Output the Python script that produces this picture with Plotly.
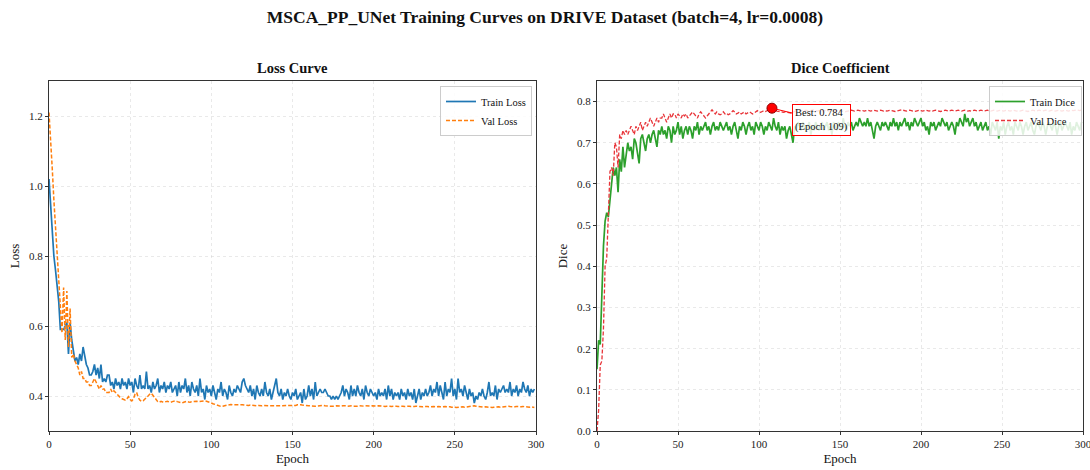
import plotly.graph_objects as go

# ---------------- data ----------------
train_loss = [
    1.02, 0.94, 0.87, 0.80, 0.76, 0.71, 0.67, 0.59, 0.59, 0.59, 0.60, 0.61, 0.52, 0.61, 0.56, 0.53, 0.50, 0.51, 0.49, 0.52,
    0.50, 0.54, 0.51, 0.49, 0.48, 0.46, 0.46, 0.47, 0.49, 0.46, 0.48, 0.45, 0.49, 0.44, 0.45, 0.44, 0.46, 0.46, 0.43, 0.44,
    0.42, 0.45, 0.43, 0.44, 0.42, 0.45, 0.43, 0.44, 0.42, 0.45, 0.43, 0.44, 0.41, 0.45, 0.43, 0.42, 0.46, 0.42, 0.43, 0.42,
    0.47, 0.42, 0.43, 0.41, 0.44, 0.42, 0.43, 0.45, 0.41, 0.43, 0.42, 0.44, 0.41, 0.43, 0.42, 0.44, 0.41, 0.42, 0.43, 0.40,
    0.44, 0.41, 0.43, 0.42, 0.45, 0.41, 0.43, 0.40, 0.44, 0.42, 0.41, 0.43, 0.40, 0.45, 0.41, 0.42, 0.39, 0.43, 0.41, 0.42,
    0.40, 0.43, 0.41, 0.39, 0.42, 0.41, 0.44, 0.40, 0.42, 0.41, 0.39, 0.43, 0.41, 0.40, 0.42, 0.41, 0.43, 0.42, 0.41, 0.44,
    0.45, 0.43, 0.42, 0.41, 0.43, 0.40, 0.42, 0.39, 0.43, 0.41, 0.40, 0.42, 0.40, 0.44, 0.41, 0.40, 0.42, 0.39, 0.41, 0.43,
    0.45, 0.41, 0.40, 0.42, 0.39, 0.41, 0.40, 0.42, 0.40, 0.39, 0.41, 0.40, 0.42, 0.39, 0.40, 0.41, 0.38, 0.42, 0.39, 0.40,
    0.43, 0.40, 0.42, 0.39, 0.44, 0.40, 0.41, 0.42, 0.41, 0.41, 0.42, 0.41, 0.40, 0.40, 0.39, 0.40, 0.39, 0.40, 0.39, 0.40,
    0.41, 0.43, 0.40, 0.42, 0.41, 0.39, 0.43, 0.40, 0.42, 0.40, 0.43, 0.41, 0.40, 0.42, 0.39, 0.43, 0.41, 0.40, 0.42, 0.41,
    0.40, 0.41, 0.39, 0.42, 0.40, 0.41, 0.40, 0.42, 0.39, 0.43, 0.40, 0.42, 0.39, 0.41, 0.40, 0.41, 0.39, 0.42, 0.40, 0.41,
    0.39, 0.42, 0.40, 0.41, 0.39, 0.42, 0.38, 0.40, 0.42, 0.39, 0.41, 0.40, 0.42, 0.40, 0.41, 0.43, 0.40, 0.42, 0.41, 0.44,
    0.40, 0.43, 0.41, 0.39, 0.44, 0.40, 0.42, 0.41, 0.45, 0.40, 0.42, 0.39, 0.45, 0.41, 0.42, 0.40, 0.43, 0.41, 0.39, 0.42,
    0.40, 0.41, 0.38, 0.40, 0.39, 0.41, 0.40, 0.42, 0.40, 0.39, 0.41, 0.44, 0.40, 0.41, 0.40, 0.43, 0.39, 0.42, 0.41, 0.42,
    0.43, 0.41, 0.42, 0.41, 0.44, 0.40, 0.42, 0.41, 0.43, 0.40, 0.42, 0.41, 0.44, 0.42, 0.41, 0.43, 0.40, 0.42, 0.41, 0.42,
]

val_loss = [
    1.21, 1.14, 1.05, 0.96, 0.88, 0.80, 0.74, 0.66, 0.58, 0.71, 0.56, 0.70, 0.54, 0.65, 0.51, 0.52, 0.50, 0.49, 0.48, 0.46,
    0.47, 0.45, 0.45, 0.44, 0.44, 0.43, 0.43, 0.44, 0.45, 0.44, 0.43, 0.42, 0.43, 0.42, 0.42, 0.41, 0.41, 0.41, 0.42, 0.41,
    0.415, 0.410, 0.402, 0.398, 0.395, 0.392, 0.390, 0.388, 0.392, 0.398, 0.390, 0.386, 0.392, 0.405, 0.410, 0.395, 0.388, 0.385, 0.386, 0.390,
    0.395, 0.400, 0.405, 0.408, 0.402, 0.395, 0.388, 0.384, 0.382, 0.385, 0.383, 0.382, 0.384, 0.385, 0.383, 0.382, 0.384, 0.385, 0.386, 0.384,
    0.383, 0.382, 0.380, 0.382, 0.384, 0.385, 0.383, 0.382, 0.384, 0.385, 0.386, 0.385, 0.384, 0.385, 0.386, 0.387, 0.386, 0.385, 0.384, 0.382,
    0.380, 0.378, 0.376, 0.374, 0.372, 0.371, 0.370, 0.371, 0.372, 0.373, 0.375, 0.376, 0.376, 0.375, 0.376, 0.375, 0.375, 0.374, 0.375, 0.375,
    0.374, 0.374, 0.373, 0.373, 0.374, 0.373, 0.372, 0.373, 0.372, 0.373, 0.372, 0.372, 0.373, 0.372, 0.373, 0.372, 0.372, 0.371, 0.372, 0.372,
    0.372, 0.371, 0.372, 0.371, 0.372, 0.371, 0.372, 0.371, 0.372, 0.371, 0.372, 0.372, 0.373, 0.375, 0.376, 0.375, 0.374, 0.373, 0.372, 0.372,
    0.372, 0.372, 0.371, 0.372, 0.371, 0.371, 0.372, 0.371, 0.372, 0.373, 0.372, 0.371, 0.372, 0.371, 0.371, 0.370, 0.371, 0.372, 0.371, 0.372,
    0.371, 0.372, 0.373, 0.372, 0.371, 0.372, 0.371, 0.372, 0.371, 0.370, 0.371, 0.372, 0.371, 0.372, 0.371, 0.372, 0.371, 0.370, 0.371, 0.372,
    0.371, 0.370, 0.371, 0.372, 0.371, 0.370, 0.371, 0.370, 0.371, 0.372, 0.371, 0.370, 0.371, 0.370, 0.371, 0.370, 0.371, 0.370, 0.371, 0.370,
    0.371, 0.370, 0.371, 0.370, 0.369, 0.370, 0.371, 0.370, 0.371, 0.370, 0.369, 0.370, 0.371, 0.370, 0.369, 0.370, 0.371, 0.370, 0.369, 0.370,
    0.370, 0.369, 0.370, 0.369, 0.370, 0.369, 0.370, 0.369, 0.368, 0.369, 0.368, 0.367, 0.368, 0.369, 0.370, 0.369, 0.368, 0.369, 0.370, 0.371,
    0.370, 0.371, 0.372, 0.371, 0.370, 0.369, 0.370, 0.369, 0.368, 0.369, 0.368, 0.367, 0.368, 0.367, 0.368, 0.369, 0.368, 0.369, 0.368, 0.369,
    0.370, 0.369, 0.370, 0.371, 0.370, 0.369, 0.368, 0.369, 0.370, 0.369, 0.368, 0.369, 0.370, 0.369, 0.368, 0.367, 0.368, 0.369, 0.368, 0.367,
]

train_dice = [
    0.15, 0.22, 0.21, 0.33, 0.45, 0.51, 0.53, 0.52, 0.56, 0.60, 0.64, 0.62, 0.64, 0.58, 0.66, 0.63, 0.69, 0.64, 0.67, 0.70,
    0.68, 0.69, 0.66, 0.71, 0.70, 0.67, 0.65, 0.71, 0.72, 0.70, 0.68, 0.71, 0.72, 0.70, 0.72, 0.73, 0.71, 0.69, 0.73, 0.72,
    0.74, 0.72, 0.73, 0.71, 0.74, 0.73, 0.70, 0.74, 0.72, 0.73, 0.75, 0.72, 0.74, 0.71, 0.73, 0.74, 0.72, 0.74, 0.73, 0.71,
    0.74, 0.73, 0.75, 0.72, 0.74, 0.73, 0.74, 0.75, 0.73, 0.74, 0.72, 0.74, 0.75, 0.73, 0.74, 0.73, 0.75, 0.74, 0.73, 0.74,
    0.75, 0.73, 0.74, 0.72, 0.74, 0.75, 0.73, 0.71, 0.74, 0.73, 0.75, 0.74, 0.72, 0.74, 0.75, 0.73, 0.74, 0.72, 0.75, 0.74,
    0.73, 0.75, 0.74, 0.72, 0.74, 0.73, 0.75, 0.74, 0.73, 0.76, 0.74, 0.73, 0.75, 0.72, 0.74, 0.73, 0.74, 0.71, 0.73, 0.74,
    0.72, 0.70, 0.74, 0.73, 0.75, 0.74, 0.73, 0.75, 0.74, 0.73, 0.74, 0.75, 0.72, 0.74, 0.73, 0.75, 0.74, 0.73, 0.74, 0.75,
    0.73, 0.74, 0.75, 0.73, 0.74, 0.72, 0.75, 0.74, 0.73, 0.75, 0.74, 0.73, 0.76, 0.74, 0.73, 0.75, 0.74, 0.75, 0.73, 0.74,
    0.75, 0.74, 0.76, 0.75, 0.74, 0.75, 0.74, 0.76, 0.74, 0.75, 0.73, 0.71, 0.74, 0.75, 0.74, 0.73, 0.75, 0.74, 0.75, 0.74,
    0.73, 0.75, 0.74, 0.76, 0.74, 0.75, 0.73, 0.75, 0.74, 0.75, 0.76, 0.74, 0.75, 0.73, 0.75, 0.74, 0.76, 0.75, 0.74, 0.75,
    0.76, 0.74, 0.75, 0.73, 0.74, 0.72, 0.75, 0.74, 0.75, 0.73, 0.74, 0.75, 0.74, 0.76, 0.75, 0.74, 0.75, 0.73, 0.74, 0.75,
    0.74, 0.72, 0.75, 0.74, 0.76, 0.75, 0.74, 0.77, 0.75, 0.76, 0.74, 0.75, 0.76, 0.74, 0.75, 0.73, 0.74, 0.75, 0.73, 0.74,
    0.75, 0.73, 0.74, 0.72, 0.75, 0.74, 0.73, 0.75, 0.71, 0.74, 0.73, 0.75, 0.72, 0.74, 0.75, 0.73, 0.74, 0.72, 0.75, 0.74,
    0.73, 0.75, 0.74, 0.72, 0.74, 0.75, 0.73, 0.74, 0.75, 0.73, 0.72, 0.74, 0.75, 0.74, 0.73, 0.75, 0.74, 0.72, 0.74, 0.75,
    0.74, 0.73, 0.75, 0.74, 0.72, 0.74, 0.75, 0.73, 0.74, 0.75, 0.74, 0.73, 0.75, 0.72, 0.74, 0.73, 0.75, 0.74, 0.73, 0.75,
]

val_dice = [
    0.00, 0.05, 0.16, 0.17, 0.25, 0.40, 0.42, 0.55, 0.63, 0.64, 0.62, 0.70, 0.69, 0.64, 0.72, 0.71, 0.73, 0.72, 0.73, 0.72,
    0.73, 0.74, 0.73, 0.72, 0.74, 0.73, 0.74, 0.75, 0.73, 0.74, 0.75, 0.74, 0.75, 0.76, 0.75, 0.74, 0.75, 0.76, 0.75, 0.76,
    0.76, 0.77, 0.76, 0.75, 0.76, 0.77, 0.76, 0.77, 0.77, 0.76, 0.77, 0.765, 0.76, 0.77, 0.765, 0.77, 0.76, 0.765, 0.77, 0.775,
    0.77, 0.765, 0.76, 0.77, 0.775, 0.77, 0.765, 0.76, 0.765, 0.77, 0.775, 0.78, 0.775, 0.77, 0.775, 0.77, 0.768, 0.77, 0.775, 0.77,
    0.772, 0.768, 0.77, 0.775, 0.778, 0.775, 0.77, 0.772, 0.775, 0.77, 0.772, 0.775, 0.77, 0.772, 0.775, 0.773, 0.77, 0.772, 0.775, 0.778,
    0.775, 0.774, 0.776, 0.778, 0.776, 0.778, 0.780, 0.781, 0.784, 0.782, 0.779, 0.777, 0.776, 0.776, 0.775, 0.774, 0.775, 0.774, 0.773, 0.773,
    0.772, 0.774, 0.776, 0.778, 0.780, 0.779, 0.778, 0.779, 0.778, 0.779, 0.778, 0.779, 0.778, 0.780, 0.779, 0.778, 0.777, 0.778, 0.779, 0.778,
    0.778, 0.779, 0.778, 0.777, 0.778, 0.779, 0.778, 0.777, 0.778, 0.779, 0.778, 0.777, 0.776, 0.775, 0.776, 0.777, 0.778, 0.779, 0.778, 0.777,
    0.778, 0.779, 0.778, 0.777, 0.778, 0.777, 0.778, 0.779, 0.778, 0.777, 0.778, 0.779, 0.778, 0.777, 0.778, 0.779, 0.778, 0.777, 0.778, 0.777,
    0.778, 0.779, 0.778, 0.777, 0.776, 0.777, 0.778, 0.779, 0.780, 0.779, 0.778, 0.777, 0.778, 0.779, 0.778, 0.777, 0.776, 0.777, 0.778, 0.779,
    0.778, 0.777, 0.778, 0.779, 0.778, 0.777, 0.778, 0.777, 0.778, 0.779, 0.778, 0.777, 0.776, 0.777, 0.778, 0.779, 0.778, 0.777, 0.778, 0.779,
    0.778, 0.777, 0.778, 0.779, 0.778, 0.777, 0.778, 0.779, 0.778, 0.777, 0.778, 0.777, 0.778, 0.779, 0.778, 0.777, 0.778, 0.779, 0.778, 0.777,
    0.778, 0.779, 0.778, 0.777, 0.778, 0.779, 0.778, 0.777, 0.778, 0.779, 0.778, 0.777, 0.778, 0.779, 0.778, 0.777, 0.778, 0.779, 0.778, 0.777,
    0.778, 0.777, 0.778, 0.779, 0.778, 0.777, 0.776, 0.777, 0.778, 0.779, 0.778, 0.777, 0.778, 0.779, 0.778, 0.777, 0.778, 0.779, 0.778, 0.777,
    0.778, 0.779, 0.778, 0.777, 0.778, 0.779, 0.778, 0.777, 0.778, 0.779, 0.778, 0.777, 0.778, 0.779, 0.778, 0.779, 0.780, 0.779, 0.778, 0.779,
]

title_text = "MSCA_PP_UNet Training Curves on DRIVE Dataset (batch=4, lr=0.0008)"
x_ticks = [0, 50, 100, 150, 200, 250, 300]
loss_ticks = [0.4, 0.6, 0.8, 1.0, 1.2]
dice_ticks = [0.0, 0.1, 0.2, 0.3, 0.4, 0.5, 0.6, 0.7, 0.8]

# ---------------- figure ----------------
FONT = "Liberation Serif, Times New Roman, serif"
W, H = 1090, 470

def ep(series):
    return list(range(len(series)))

best_idx = max(range(len(val_dice)), key=lambda i: val_dice[i])
best_val = val_dice[best_idx]

fig = go.Figure()
fig.add_trace(go.Scatter(x=ep(train_loss), y=train_loss, mode="lines", name="Train Loss",
                         line=dict(color="#1f77b4", width=1.7), xaxis="x", yaxis="y", legend="legend"))
fig.add_trace(go.Scatter(x=ep(val_loss), y=val_loss, mode="lines", name="Val Loss",
                         line=dict(color="#ff7f0e", width=1.5, dash="4px,2px"), xaxis="x", yaxis="y", legend="legend"))
fig.add_trace(go.Scatter(x=ep(train_dice), y=train_dice, mode="lines", name="Train Dice",
                         line=dict(color="#2ca02c", width=1.7), xaxis="x2", yaxis="y2", legend="legend2"))
fig.add_trace(go.Scatter(x=ep(val_dice), y=val_dice, mode="lines", name="Val Dice",
                         line=dict(color="#e8353a", width=1.3, dash="4px,2px"), xaxis="x2", yaxis="y2", legend="legend2"))
fig.add_trace(go.Scatter(x=[best_idx], y=[best_val], mode="markers", showlegend=False,
                         marker=dict(color="red", size=10, line=dict(color="#8b0000", width=1)),
                         xaxis="x2", yaxis="y2"))

x1d = [49 / W, 536 / W]
x2d = [597 / W, 1083 / W]
yd = [1 - 431 / H, 1 - 81 / H]

axis_common = dict(
    showline=True, linecolor="#333333", linewidth=1, mirror=True, automargin=False,
    ticks="outside", ticklen=3, tickcolor="#333333", ticklabeloverflow="allow",
    showgrid=True, gridcolor="rgba(200,200,200,0.4)", griddash="dot", gridwidth=1,
    zeroline=False, tickfont=dict(family=FONT, size=11, color="#222222"),
)

fig.update_layout(
    width=W, height=H,
    paper_bgcolor="white", plot_bgcolor="white",
    margin=dict(l=0, r=0, t=0, b=0),
    font=dict(family=FONT, color="#111111"),
    title=dict(text=f"<b>{title_text}</b>", x=0.5, xanchor="center", y=1 - 17 / H, yanchor="middle",
               font=dict(family=FONT, size=17.5, color="#111111")),
    xaxis=dict(domain=x1d, range=[0, 300], tickvals=x_ticks, anchor="y",
               title=dict(text="Epoch", font=dict(family=FONT, size=13), standoff=4), **axis_common),
    yaxis=dict(domain=yd, range=[0.30, 1.30], tickvals=loss_ticks, tickformat=".1f", anchor="x",
               title=dict(text="Loss", font=dict(family=FONT, size=13), standoff=6), **axis_common),
    xaxis2=dict(domain=x2d, range=[0, 300], tickvals=x_ticks, anchor="y2",
                title=dict(text="Epoch", font=dict(family=FONT, size=13), standoff=4), **axis_common),
    yaxis2=dict(domain=yd, range=[0, 0.85], tickvals=dice_ticks, tickformat=".1f", anchor="x2",
                title=dict(text="Dice", font=dict(family=FONT, size=13), standoff=6), **axis_common),
    legend=dict(x=x1d[1] - 4 / W, y=yd[1] - 5 / H, xanchor="right", yanchor="top",
                bgcolor="rgba(255,255,255,0.85)", bordercolor="#cccccc", borderwidth=1,
                font=dict(family=FONT, size=10.5), tracegroupgap=0, itemwidth=30),
    legend2=dict(x=x2d[1] - 1 / W, y=yd[1] - 5 / H, xanchor="right", yanchor="top",
                 bgcolor="rgba(255,255,255,0.85)", bordercolor="#cccccc", borderwidth=1,
                 font=dict(family=FONT, size=10.5), tracegroupgap=0, itemwidth=30),
    annotations=[
        dict(text="<b>Loss Curve</b>", x=(x1d[0] + x1d[1]) / 2, y=1 - 68 / H, xref="paper", yref="paper",
             showarrow=False, font=dict(family=FONT, size=14.5, color="#111111"), xanchor="center", yanchor="middle"),
        dict(text="<b>Dice Coefficient</b>", x=(x2d[0] + x2d[1]) / 2, y=1 - 68 / H, xref="paper", yref="paper",
             showarrow=False, font=dict(family=FONT, size=14.5, color="#111111"), xanchor="center", yanchor="middle"),
        dict(text=f"Best: {best_val:.3f}<br>(Epoch {best_idx + 1})", x=best_idx, y=best_val, xref="x2", yref="y2",
             showarrow=True, arrowhead=0, arrowcolor="red", arrowwidth=1, ax=50, ay=12,
             align="left", bgcolor="rgba(255,255,255,0.85)", bordercolor="red", borderwidth=1, borderpad=2,
             font=dict(family=FONT, size=10.5, color="#111111")),
    ],
)

fig.write_html("out.html", config={"displayModeBar": False},
               post_script="document.body.style.margin='0';document.body.style.overflow='hidden';")
